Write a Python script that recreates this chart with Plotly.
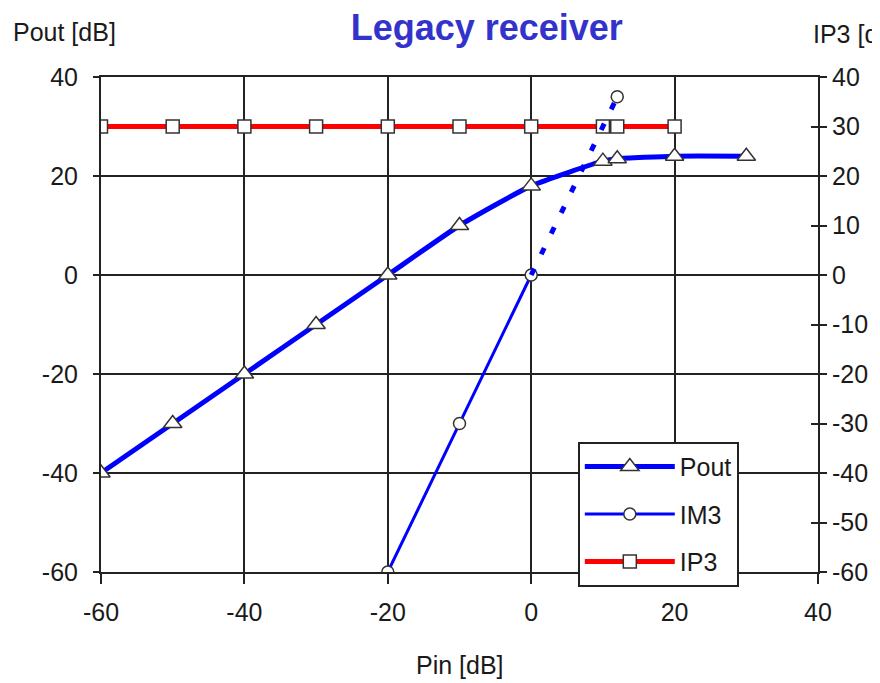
import plotly.graph_objects as go

# ---- data ----
pin_pout = [-60, -50, -40, -30, -20, -10, 0, 10, 12, 20, 30]
pout = [-40, -30, -20, -10, 0, 10, 18, 23, 23.5, 24, 24]

pin_im3 = [-20, -10, 0]
im3 = [-60, -30, 0]
pin_im3_ext = [0, 12]
im3_ext = [0, 36]

pin_ip3 = [-60, -50, -40, -30, -20, -10, 0, 10, 12, 20]
ip3 = [30, 30, 30, 30, 30, 30, 30, 30, 30, 30]

x_ticks = [-60, -40, -20, 0, 20, 40]
x_labels = ["-60", "-40", "-20", "0", "20", "40"]
y_ticks = [-60, -40, -20, 0, 20, 40]
y_labels = ["-60", "-40", "-20", "0", "20", "40"]
y2_ticks = [-60, -50, -40, -30, -20, -10, 0, 10, 20, 30, 40]
y2_labels = ["-60", "-50", "-40", "-30", "-20", "-10", "0", "10", "20", "30", "40"]

FONT = "Liberation Sans, Arial, sans-serif"
BLUE = "#0000FF"
RED = "#FF0000"
TXT = "#1a1a1a"

fig = go.Figure()

fig.add_trace(go.Scatter(
    x=pin_pout, y=pout, name="Pout", mode="lines+markers", legendgroup="a",
    line=dict(color=BLUE, width=5, shape="spline", smoothing=0.5),
    marker=dict(symbol="triangle-up", size=16, color="white", line=dict(color="#333", width=1.5)),
))
fig.add_trace(go.Scatter(
    x=pin_im3, y=im3, name="IM3", mode="lines+markers", legendgroup="b",
    line=dict(color=BLUE, width=3),
    marker=dict(symbol="circle", size=12, color="white", line=dict(color="#333", width=1.5)),
))
fig.add_trace(go.Scatter(
    x=pin_ip3, y=ip3, name="IP3", mode="lines+markers", legendgroup="c",
    line=dict(color=RED, width=5),
    marker=dict(symbol="square", size=13, color="white", line=dict(color="#333", width=1.5)),
))
fig.add_trace(go.Scatter(
    x=pin_im3_ext, y=im3_ext, name="IM3 ext", mode="lines", showlegend=False,
    line=dict(color=BLUE, width=5, dash="7px,16px"),
))
fig.add_trace(go.Scatter(
    x=pin_im3_ext[1:], y=im3_ext[1:], name="IM3 end", mode="markers", showlegend=False,
    marker=dict(symbol="circle", size=12, color="white", line=dict(color="#333", width=1.5)),
))
# invisible traces to activate right axes
fig.add_trace(go.Scatter(x=[0], y=[0], yaxis="y2", mode="markers", showlegend=False,
                         marker=dict(opacity=0), hoverinfo="skip"))
fig.add_trace(go.Scatter(x=[0], y=[0], yaxis="y3", mode="markers", showlegend=False,
                         marker=dict(opacity=0), hoverinfo="skip"))

tickfont = dict(family=FONT, size=25, color=TXT)

fig.update_layout(
    width=872, height=675,
    margin=dict(l=93, r=62, t=69, b=111, autoexpand=False),
    paper_bgcolor="white", plot_bgcolor="white",
    showlegend=True,
    title=dict(text="<b>Legacy receiver</b>", x=0.538, xref="paper", xanchor="center",
               y=0.972, yref="container", yanchor="middle",
               font=dict(family=FONT, size=36, color="#3333CC")),
    xaxis=dict(range=[-60, 40], tickvals=x_ticks, ticktext=x_labels, ticks="outside",
               ticklen=10, tickwidth=2, automargin=False,
               tickcolor="#222", showgrid=True, gridcolor="#222", gridwidth=2,
               showline=True, linecolor="#222", linewidth=2, mirror=True,
               zeroline=False, tickfont=tickfont, ticklabelstandoff=7),
    yaxis=dict(range=[-60, 40], tickvals=y_ticks, ticktext=y_labels, ticks="outside",
               ticklen=6, tickwidth=2, automargin=False,
               tickcolor="#222", showgrid=True, gridcolor="#222", gridwidth=2,
               showline=True, linecolor="#222", linewidth=2,
               zeroline=False, tickfont=tickfont, ticklabelstandoff=10),
    yaxis2=dict(range=[-60, 40], tickvals=y2_ticks, ticktext=y2_labels, overlaying="y",
                side="right", automargin=False,
                ticks="outside", ticklen=7, tickwidth=2, tickcolor="#222",
                showgrid=False, showline=True, linecolor="#222", linewidth=2,
                zeroline=False, tickfont=tickfont, ticklabelstandoff=0),
    yaxis3=dict(range=[-60, 40], tickvals=y2_ticks, overlaying="y", side="right",
                automargin=False,
                ticks="inside", ticklen=7, tickwidth=2, tickcolor="#222",
                showgrid=False, showline=False, showticklabels=False, zeroline=False),
    legend=dict(x=0.665, y=0.263, xanchor="left", yanchor="top",
                bgcolor="white", bordercolor="#222", borderwidth=2,
                font=dict(family=FONT, size=25, color=TXT),
                traceorder="grouped", tracegroupgap=12, itemwidth=90),
    annotations=[
        dict(text="Pout [dB]", x=-0.125, y=1.091, xref="paper", yref="paper",
             xanchor="left", yanchor="middle", showarrow=False,
             font=dict(family=FONT, size=25, color=TXT)),
        dict(text="IP3 [dB]", x=0.99, y=1.087, xref="paper", yref="paper",
             xanchor="left", yanchor="middle", showarrow=False,
             font=dict(family=FONT, size=25, color=TXT)),
        dict(text="Pin [dB]", x=0.5, y=-0.188, xref="paper", yref="paper",
             xanchor="center", yanchor="middle", showarrow=False,
             font=dict(family=FONT, size=25, color=TXT)),
    ],
)

fig.write_html("out.html")
